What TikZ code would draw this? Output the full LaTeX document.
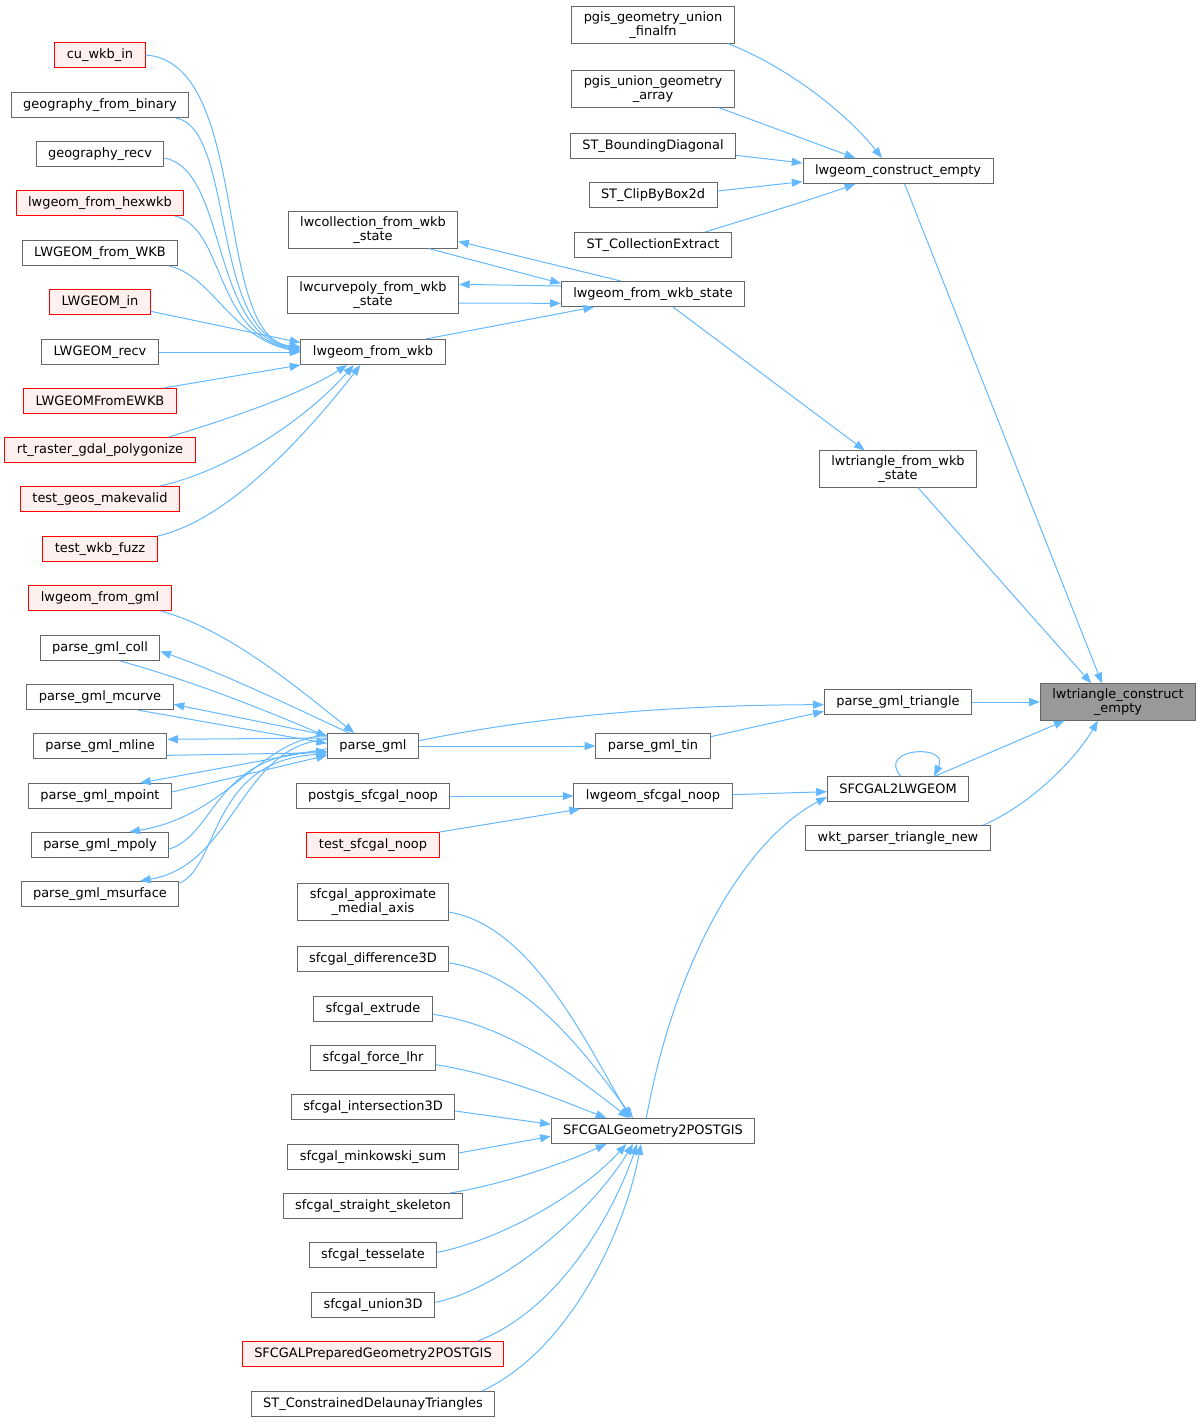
\documentclass[tikz,border=0pt]{standalone}
\usepackage{fontspec}
\setmainfont{DejaVu Sans}
\usetikzlibrary{arrows.meta}
\definecolor{callblue}{HTML}{63B8FF}
\definecolor{boxgray}{HTML}{666666}
\definecolor{extfill}{HTML}{FFF0F0}
\definecolor{rootfill}{HTML}{999999}

\begin{document}
\begin{tikzpicture}[x=0.75pt, y=0.75pt,
  fn/.style={draw=boxgray, fill=white, line width=0.75pt, inner xsep=9pt, inner ysep=3.5pt,
    minimum height=18.75pt, align=center, font=\fontsize{9.7}{10.5}\selectfont},
  extfn/.style={fn, draw=red, fill=extfill},
  rootfn/.style={fn, fill=rootfill},
  call/.style={draw=callblue, line width=0.75pt, -{Triangle[length=8pt,width=6pt]}}]
  \useasboundingbox (0,0) rectangle (1201,-1422);

  \node[extfn] (cu) at (100,-55) {cu\_wkb\_in};
  \node[fn] (gfb) at (100,-105) {geography\_from\_binary};
  \node[fn] (gr) at (100,-154) {geography\_recv};
  \node[extfn] (hex) at (100,-203) {lwgeom\_from\_hexwkb};
  \node[fn] (lfWKB) at (100,-253) {LWGEOM\_from\_WKB};
  \node[extfn] (lin) at (100,-302) {LWGEOM\_in};
  \node[fn] (lr) at (100,-352) {LWGEOM\_recv};
  \node[extfn] (lfe) at (100,-401) {LWGEOMFromEWKB};
  \node[extfn] (rt) at (100,-450) {rt\_raster\_gdal\_polygonize};
  \node[extfn] (tgm) at (100,-499) {test\_geos\_makevalid};
  \node[extfn] (twf) at (100,-549) {test\_wkb\_fuzz};
  \node[extfn] (lfg) at (100,-598) {lwgeom\_from\_gml};
  \node[fn] (coll) at (100,-648) {parse\_gml\_coll};
  \node[fn] (mc) at (100,-697) {parse\_gml\_mcurve};
  \node[fn] (ml) at (100,-746) {parse\_gml\_mline};
  \node[fn] (mpt) at (100,-796) {parse\_gml\_mpoint};
  \node[fn] (mpoly) at (100,-845) {parse\_gml\_mpoly};
  \node[fn] (ms) at (100,-894) {parse\_gml\_msurface};

  \node[fn] (lwcol) at (373,-230) {lwcollection\_from\_wkb\\\_state};
  \node[fn] (lwcp) at (373,-295) {lwcurvepoly\_from\_wkb\\\_state};
  \node[fn] (lfw) at (373,-352) {lwgeom\_from\_wkb};
  \node[fn] (pg) at (373,-746) {parse\_gml};
  \node[fn] (psn) at (373,-796) {postgis\_sfcgal\_noop};
  \node[extfn] (tsn) at (373,-845) {test\_sfcgal\_noop};
  \node[fn] (sam) at (373,-902) {sfcgal\_approximate\\\_medial\_axis};
  \node[fn] (sd3) at (373,-959) {sfcgal\_difference3D};
  \node[fn] (sex) at (373,-1009) {sfcgal\_extrude};
  \node[fn] (flh) at (373,-1058) {sfcgal\_force\_lhr};
  \node[fn] (si3) at (373,-1107) {sfcgal\_intersection3D};
  \node[fn] (smk) at (373,-1157) {sfcgal\_minkowski\_sum};
  \node[fn] (sss) at (373,-1206) {sfcgal\_straight\_skeleton};
  \node[fn] (ste) at (373,-1255) {sfcgal\_tesselate};
  \node[fn] (su3) at (373,-1305) {sfcgal\_union3D};
  \node[extfn] (sppg) at (373,-1354) {SFCGALPreparedGeometry2POSTGIS};
  \node[fn] (scdt) at (373,-1404) {ST\_ConstrainedDelaunayTriangles};

  \node[fn] (pg1) at (653,-25) {pgis\_geometry\_union\\\_finalfn};
  \node[fn] (pg2) at (653,-89) {pgis\_union\_geometry\\\_array};
  \node[fn] (bd) at (653,-146) {ST\_BoundingDiagonal};
  \node[fn] (clip) at (653,-195) {ST\_ClipByBox2d};
  \node[fn] (ce) at (653,-245) {ST\_CollectionExtract};
  \node[fn] (lws) at (653,-294) {lwgeom\_from\_wkb\_state};
  \node[fn] (tin) at (653,-746) {parse\_gml\_tin};
  \node[fn] (lsn) at (653,-796) {lwgeom\_sfcgal\_noop};
  \node[fn] (sg) at (653,-1131) {SFCGALGeometry2POSTGIS};

  \node[fn] (lce) at (898,-171) {lwgeom\_construct\_empty};
  \node[fn] (lwtfw) at (898,-469) {lwtriangle\_from\_wkb\\\_state};
  \node[fn] (pgt) at (898,-702) {parse\_gml\_triangle};
  \node[fn] (s2l) at (898,-789) {SFCGAL2LWGEOM};
  \node[fn] (wkt) at (898,-838) {wkt\_parser\_triangle\_new};

  \node[rootfn] (root) at (1118,-702) {lwtriangle\_construct\\\_empty};

  % callers of lwgeom_from_wkb
  \draw[call] (cu.east) .. controls (252,-62) and (212,-340) .. ([yshift=4pt]lfw.west);
  \draw[call] ([xshift=-10pt]gfb.south east) .. controls (235,-128) and (210,-334) .. ([yshift=3pt]lfw.west);
  \draw[call] ([yshift=-3pt]gr.east) .. controls (228,-170) and (210,-334) .. ([yshift=2pt]lfw.west);
  \draw[call] ([xshift=-7pt]hex.south east) .. controls (225,-228) and (214,-334) .. ([yshift=1pt]lfw.west);
  \draw[call] ([xshift=-7pt]lfWKB.south east) .. controls (212,-275) and (230,-337) .. (lfw.west);
  \draw[call] ([yshift=-7pt]lin.east) -- ([yshift=7pt]lfw.west);
  \draw[call] (lr.east) -- (lfw.west);
  \draw[call] ([xshift=-10pt]lfe.north east) -- (lfw.south west);
  \draw[call] ([xshift=-20pt]rt.north east) .. controls (225,-420) and (300,-395) .. ([xshift=35pt]lfw.south west);
  \draw[call] ([xshift=-15pt]tgm.north east) .. controls (230,-470) and (305,-420) .. ([xshift=40pt]lfw.south west);
  \draw[call] (twf.north east) .. controls (230,-520) and (310,-430) .. ([xshift=45pt]lfw.south west);

  % wkb state
  \draw[call] ([xshift=-15pt]lfw.north east) -- ([xshift=25pt]lws.south west);
  \draw[call] ([xshift=45pt]lws.north west) -- ([yshift=-8.5pt]lwcol.east);
  \draw[call] ([xshift=-22pt]lwcol.south east) -- ([yshift=8pt]lws.west);
  \draw[call] ([yshift=6pt]lws.west) -- ([yshift=8pt]lwcp.east);
  \draw[call] ([yshift=-6pt]lwcp.east) -- ([yshift=-7pt]lws.west);
  \draw[call] ([xshift=15pt]lws.south) -- ([xshift=-25pt]lwtfw.north);
  \draw[call] ([xshift=15pt]lwtfw.south) -- ([xshift=-20pt]root.north);

  % lwgeom_construct_empty
  \draw[call] ([xshift=-5pt]pg1.south east) .. controls (790,-68) and (848,-115) .. ([xshift=-12pt]lce.north);
  \draw[call] ([xshift=-12pt]pg2.south east) -- ([xshift=-32pt]lce.north);
  \draw[call] ([yshift=-7pt]bd.east) -- ([yshift=6pt]lce.west);
  \draw[call] ([yshift=3pt]clip.east) -- ([yshift=-8pt]lce.west);
  \draw[call] ([xshift=-20pt]ce.north east) .. controls (750,-218) and (810,-200) .. ([xshift=-32pt]lce.south);
  \draw[call] ([xshift=5pt]lce.south) -- ([xshift=-12pt]root.north);

  % root callers
  \draw[call] (pgt.east) -- (root.west);
  \draw[call] ([xshift=28pt]s2l.north) -- ([xshift=-40pt]root.south);
  \draw[call] ([xshift=64pt]wkt.north) .. controls (1030,-805) and (1075,-760) .. ([xshift=-15pt]root.south);
  \draw[call] ([xshift=2pt]s2l.north) .. controls (876,-748) and (950,-743) .. ([xshift=27pt]s2l.north);

  % gml
  \draw[call] ([yshift=4pt]pg.east) .. controls (560,-712) and (700,-705) .. ([yshift=-2pt]pgt.west);
  \draw[call] (pg.east) -- (tin.west);
  \draw[call] ([yshift=7pt]tin.east) -- ([yshift=-7pt]pgt.west);
  \draw[call] ([xshift=-8pt]lfg.south east) .. controls (230,-630) and (300,-690) .. ([xshift=-14pt]pg.north);
  \draw[call] ([xshift=-18pt]pg.north) .. controls (300,-710) and (220,-672) .. ([yshift=-2.5pt]coll.east);
  \draw[call] ([xshift=15pt]coll.south) .. controls (190,-680) and (270,-712) .. ([yshift=7pt]pg.west);
  \draw[call] ([yshift=8pt]pg.west) -- ([yshift=-5.5pt]mc.east);
  \draw[call] ([xshift=28pt]mc.south) -- ([yshift=2pt]pg.west);
  \draw[call] ([yshift=6pt]pg.west) -- ([yshift=5pt]ml.east);
  \draw[call] ([yshift=-7pt]ml.east) -- ([yshift=-5pt]pg.west);
  \draw[call] ([yshift=-2pt]pg.west) -- ([xshift=30pt]mpt.north);
  \draw[call] ([yshift=3pt]mpt.east) -- ([yshift=-7pt]pg.west);
  \draw[call] ([yshift=8pt]pg.west) .. controls (260,-738) and (230,-815) .. ([xshift=22pt]mpoly.north);
  \draw[call] ([yshift=-3pt]mpoly.east) .. controls (215,-835) and (215,-755) .. ([yshift=-4pt]pg.west);
  \draw[call] ([yshift=5pt]pg.west) .. controls (240,-745) and (235,-865) .. ([xshift=30pt]ms.north);
  \draw[call] ([yshift=8pt]ms.east) .. controls (220,-865) and (210,-760) .. ([yshift=-6pt]pg.west);

  % sfcgal
  \draw[call] (psn.east) -- (lsn.west);
  \draw[call] (tsn.north east) -- ([xshift=5pt]lsn.south west);
  \draw[call] ([yshift=1pt]lsn.east) -- ([yshift=-2pt]s2l.west);
  \draw[call] ([xshift=-5pt]sg.north) .. controls (675,-960) and (745,-840) .. ([yshift=-6pt]s2l.west);
  \draw[call] ([yshift=-7.5pt]sam.east) .. controls (530,-925) and (585,-1040) .. ([xshift=-17pt]sg.north);
  \draw[call] ([yshift=-3pt]sd3.east) .. controls (530,-975) and (590,-1060) .. ([xshift=-15pt]sg.north);
  \draw[call] ([yshift=-4pt]sex.east) .. controls (510,-1025) and (580,-1080) .. ([xshift=-18pt]sg.north);
  \draw[call] ([yshift=-5pt]flh.east) .. controls (500,-1075) and (560,-1100) .. ([xshift=-35pt]sg.north);
  \draw[call] ([yshift=-3pt]si3.east) -- ([yshift=5pt]sg.west);
  \draw[call] ([yshift=3pt]smk.east) -- ([yshift=-4pt]sg.west);
  \draw[call] ([xshift=-10pt]sss.north east) .. controls (500,-1185) and (560,-1165) .. ([xshift=-35pt]sg.south);
  \draw[call] ([yshift=2pt]ste.east) .. controls (500,-1240) and (580,-1195) .. ([xshift=-20pt]sg.south);
  \draw[call] ([yshift=2pt]su3.east) .. controls (500,-1290) and (590,-1215) .. ([xshift=-15pt]sg.south);
  \draw[call] ([xshift=-20pt]sppg.north east) .. controls (560,-1310) and (615,-1210) .. ([xshift=-12pt]sg.south);
  \draw[call] ([xshift=-10pt]scdt.north east) .. controls (570,-1350) and (625,-1230) .. ([xshift=-9pt]sg.south);
\end{tikzpicture}
\end{document}
